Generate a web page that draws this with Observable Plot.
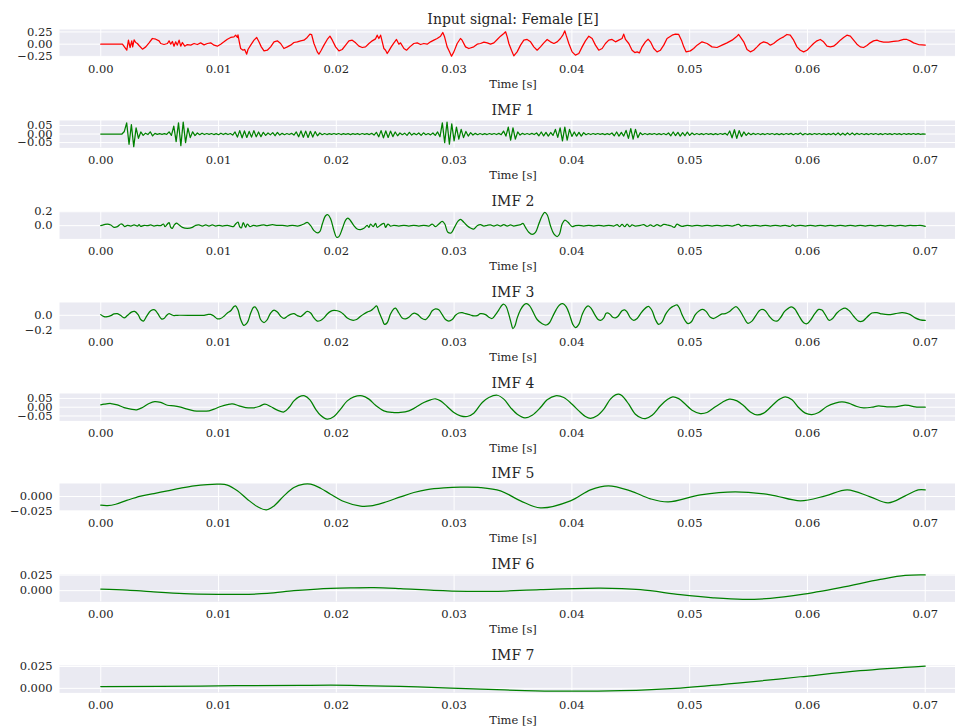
<!DOCTYPE html>
<html><head><meta charset="utf-8">
<script src="https://cdn.jsdelivr.net/npm/d3@7"></script>
<script src="https://cdn.jsdelivr.net/npm/@observablehq/plot@0.6"></script>
<style>
html,body{margin:0;padding:0;background:#fff;}
body{width:955px;height:727px;overflow:hidden;font-family:"DejaVu Serif",serif;}
#chart{position:relative;width:955px;height:727px;overflow:hidden;}
</style></head><body><div id="chart"></div><script>
// ---- data: [time in ms, value] ----
const titles = ["Input signal: Female [E]","IMF 1","IMF 2","IMF 3","IMF 4","IMF 5","IMF 6","IMF 7"];
const xTicks = [0,0.01,0.02,0.03,0.04,0.05,0.06,0.07];
const xLabel = "Time [s]";

const inputSignal = [[0,0],[1.84,0],[2.21,-.123],[2.35,.082],[2.49,-.068],[2.63,.068],[2.71,-.055],[2.83,.089],[2.97,.034],[3.11,.014],[3.25,-.027],[3.54,-.102],[3.82,-.055],[4.10,.027],[4.38,.116],[4.67,.102],[4.95,.068],[5.09,.014],[5.37,-.007],[5.66,.014],[5.80,.068],[5.94,0],[6.08,.055],[6.22,-.041],[6.36,.048],[6.50,-.020],[6.65,.082],[6.79,-.041],[6.93,.034],[7.13,-.041],[7.35,-.007],[7.64,-.020],[7.92,.014],[8.20,-.007],[8.48,.027],[8.77,-.014],[9.05,.014],[9.33,.027],[9.62,-.020],[9.90,-.041],[10.18,0],[10.46,.048],[10.75,.102],[11.03,.137],[11.31,.150],[11.45,.184],[11.60,.137],[11.65,.191],[11.76,.048],[11.88,-.089],[12.08,-.123],[12.22,-.109],[12.39,-.205],[12.50,-.109],[12.73,-.020],[13.01,.082],[13.24,.137],[13.43,.048],[13.63,-.055],[13.86,-.137],[14.14,-.123],[14.42,-.055],[14.71,.048],[14.99,.068],[15.27,.014],[15.55,-.089],[15.84,-.055],[16.12,-.020],[16.40,.034],[16.69,.048],[16.97,.068],[17.25,.082],[17.53,.137],[17.76,.205],[17.90,.198],[18.10,.014],[18.38,-.157],[18.52,-.205],[18.72,-.123],[18.95,-.020],[19.23,.096],[19.46,.164],[19.66,.082],[19.94,-.055],[20.22,-.137],[20.50,-.109],[20.79,-.020],[21.07,.068],[21.35,.082],[21.64,.027],[21.92,-.041],[22.20,-.068],[22.48,-.055],[22.77,.014],[23.05,.068],[23.33,.109],[23.47,.184],[23.61,.116],[23.76,.184],[23.90,.048],[24.04,-.089],[24.18,-.123],[24.32,-.191],[24.46,-.137],[24.66,-.055],[24.89,.027],[25.11,.096],[25.31,0],[25.45,.027],[25.74,-.089],[25.96,-.123],[26.24,-.055],[26.58,.014],[26.87,.027],[27.15,-.007],[27.43,.014],[27.71,0],[28.00,.048],[28.28,.082],[28.56,.116],[28.85,.164],[29.04,.239],[29.19,.150],[29.41,-.055],[29.55,-.123],[29.78,-.246],[29.98,-.157],[30.26,.014],[30.54,.116],[30.68,.082],[30.97,-.055],[31.25,-.089],[31.67,-.055],[31.96,0],
[32.24,.014],[32.53,.041],[32.81,.027],[33.09,0],[33.38,.027],[33.66,.096],[33.94,.164],[34.22,.219],[34.37,.253],[34.51,.150],[34.65,.014],[34.87,-.123],[35.07,-.239],[35.35,-.157],[35.64,-.020],[35.92,.082],[36.20,.096],[36.49,.048],[36.77,-.055],[37.05,-.123],[37.33,-.055],[37.62,.027],[37.90,.096],[38.18,.048],[38.47,.014],[38.75,.048],[39.03,.116],[39.23,.184],[39.40,.273],[39.51,.184],[39.74,.014],[40.02,-.157],[40.30,-.225],[40.59,-.191],[40.87,-.055],[41.15,.068],[41.44,.164],[41.72,.116],[42.00,-.020],[42.28,-.123],[42.57,-.089],[42.85,.014],[43.13,.082],[43.41,.096],[43.70,.048],[43.98,.082],[44.26,.116],[44.40,.205],[44.55,.096],[44.83,.014],[45.11,-.123],[45.34,-.171],[45.54,-.157],[45.73,-.178],[45.96,-.055],[46.24,.048],[46.47,.102],[46.67,.048],[46.95,-.089],[47.23,-.157],[47.52,-.123],[47.80,-.020],[48.08,.116],[48.51,.184],[48.79,.205],[49.07,.198],[49.30,.082],[49.50,-.055],[49.69,-.157],[50.06,-.137],[50.34,-.089],[50.63,-.020],[51.05,.048],[51.48,.014],[51.90,-.055],[52.32,-.068],[52.75,-.020],[53.17,.027],[53.60,.082],[54.02,.164],[54.16,.198],[54.30,.150],[54.59,.048],[54.87,-.109],[55.15,-.157],[55.43,-.123],[55.72,-.055],[56.00,.014],[56.28,.048],[56.57,.027],[56.85,-.020],[57.13,.014],[57.41,.068],[57.70,.116],[57.98,.150],[58.26,.198],[58.54,.184],[58.83,.082],[59.11,-.055],[59.39,-.123],[59.68,-.157],[59.96,-.123],[60.24,-.055],[60.52,.014],[60.81,.068],[61.09,.096],[61.37,.048],[61.66,-.041],[61.94,-.055],[62.22,-.041],[62.50,.014],[62.79,.082],[63.07,.137],[63.35,.184],[63.64,.164],[63.92,.082],[64.20,0],[64.48,-.055],[64.77,-.068],[65.05,-.027],[65.33,.027],[65.61,.068],[65.90,.082],[66.18,.055],[66.46,.041],[66.89,.041],[67.31,.055],[67.74,.068],[68.16,.096],[68.44,.096],[68.73,.068],[69.01,.027],[69.43,-.007],[70,-.020]];

// IMF 1: samples every 0.2 ms from 0 to 70 ms
const imf1Step = 0.2;
const imf1Values = [
0,0,0,0,0,0,0,0,0,0,
.015,.065,-.06,.055,-.074,.036,-.025,.012,-.008,.005,
-.003,.013,-.011,.004,-.002,.002,-.002,.002,-.002,.013,
-.008,.046,-.044,.065,-.068,.07,-.05,.035,-.021,.013,
-.009,.006,-.004,.005,-.003,.003,-.002,.003,-.003,.002,
-.004,.005,-.003,.004,-.003,.003,-.006,.012,-.018,.02,
-.022,.018,-.02,.015,-.018,.02,-.016,.012,-.015,.01,
-.008,.006,-.005,.008,-.01,.009,-.006,.004,-.004,.003,
-.003,.004,-.006,.012,-.016,.018,-.019,.017,-.02,.016,
-.018,.014,-.01,.006,-.004,.003,-.003,.002,-.002,.003,
-.002,.003,-.003,.002,-.002,.002,-.003,.002,-.002,.002,
-.003,.003,-.002,.002,-.003,.004,-.006,.01,-.016,.02,
-.022,.018,-.02,.017,-.015,.012,-.01,.006,-.004,.005,
-.008,.01,-.006,.004,-.004,.006,-.008,.007,-.004,.003,
-.005,.006,-.008,.012,-.016,.065,-.05,.07,-.059,.059,
-.04,.04,-.03,.027,-.021,.015,-.012,.008,-.006,.004,
-.004,.003,-.003,.002,-.003,.003,-.002,.003,-.003,.004,
-.004,.017,-.012,.04,-.036,.036,-.03,.012,-.006,.004,
-.003,.003,-.003,.004,-.003,.006,-.01,.012,-.011,.01,
-.012,.009,-.008,.027,-.02,.036,-.04,.04,-.036,.027,
-.014,.012,-.012,.01,-.012,.008,-.004,.003,-.003,.003,
-.002,.003,-.002,.002,-.003,.002,-.003,.006,-.01,.012,
-.012,.01,-.012,.021,-.025,.032,-.03,.027,-.021,.008,
-.004,.003,-.003,.002,-.002,.003,-.003,.002,-.003,.003,
-.004,.006,-.01,.012,-.009,.01,-.012,.008,-.01,.011,
-.008,.006,-.004,.003,-.003,.002,-.003,.003,-.002,.002,
-.003,.002,-.003,.003,-.002,.004,-.006,.018,-.022,.025,
-.025,.02,-.015,.012,-.008,.006,-.004,.004,-.003,.003,
-.003,.002,-.003,.003,-.002,.003,-.003,.002,-.003,.002,
-.003,.003,-.002,.004,-.004,.003,-.002,.006,-.005,.003,
-.003,.002,-.003,.003,-.002,.003,-.003,.002,-.003,.002,
-.003,.004,-.005,.006,-.006,.005,-.006,.006,-.005,.006,
-.005,.004,-.003,.003,-.003,.002,-.003,.003,-.002,.003,
-.003,.002,-.003,.003,-.002,.002,-.003,.003,-.002,.002,
-.003,.003,-.002,.002,-.002,.003,-.002,.002,-.002,.001,0];

const imf2 = [[0,0],[0.28,.014],[0.57,.024],[0.85,.010],[1.13,-.024],[1.41,-.014],[1.70,.024],[1.84,.019],[2.04,-.014],[2.26,.005],[2.55,-.005],[2.83,.010],[3.11,-.005],[3.25,.014],[3.39,-.010],[3.68,.005],[3.96,0],[4.24,.010],[4.52,-.005],[4.81,.005],[5.09,0],[5.32,.024],[5.46,-.014],[5.66,.024],[5.80,.043],[5.94,-.024],[6.08,-.038],[6.22,.005],[6.42,.038],[6.65,.010],[6.93,-.024],[7.35,-.038],[7.78,-.024],[8.06,.005],[8.34,.010],[8.63,-.005],[8.91,.010],[9.19,-.005],[9.47,.010],[9.76,-.005],[10.04,.005],[10.32,-.005],[10.75,.005],[11.03,-.005],[11.26,-.014],[11.45,.024],[11.65,.052],[11.79,-.014],[11.93,-.033],[12.10,.043],[12.30,-.024],[12.44,.024],[12.67,-.014],[12.95,.005],[13.24,-.005],[13.57,.005],[13.86,.010],[14.14,0],[14.56,.014],[14.99,.005],[15.41,.005],[15.84,-.005],[16.26,.005],[16.69,-.005],[16.97,.005],[17.25,.024],[17.53,.048],[17.82,0],[18.10,-.071],[18.38,-.105],[18.61,-.081],[18.81,.024],[19.09,.143],[19.29,.157],[19.52,.095],[19.80,-.071],[20.02,-.167],[20.22,-.157],[20.50,-.048],[20.79,.081],[20.98,.109],[21.21,.071],[21.49,0],[21.77,-.048],[22.06,-.057],[22.34,-.038],[22.62,.005],[22.77,-.024],[22.91,.024],[23.13,-.014],[23.33,.033],[23.47,-.024],[23.76,.010],[24.04,.033],[24.18,-.024],[24.38,.024],[24.60,-.005],[24.89,.005],[25.31,-.005],[25.74,.005],[26.16,-.005],[26.58,.005],[27.01,-.005],[27.43,.005],[27.86,-.005],[28.14,.024],[28.42,-.014],[28.70,.024],[28.99,.062],[29.21,.024],[29.47,-.095],[29.75,-.105],[30.03,-.024],[30.32,.062],[30.54,.090],[30.83,.048],[31.11,0],[31.39,-.033],[31.67,-.048],[31.96,0],
[32.24,.014],[32.53,-.005],[32.81,.005],[33.09,.010],[33.38,-.005],[33.66,.010],[33.94,-.005],[34.22,.014],[34.51,-.005],[34.79,.010],[35.07,-.005],[35.35,.005],[35.64,.014],[35.84,.033],[36.06,-.024],[36.34,-.095],[36.63,-.124],[36.91,-.095],[37.19,.024],[37.48,.143],[37.70,.190],[37.90,.157],[38.18,0],[38.47,-.119],[38.75,-.157],[38.95,-.119],[39.17,.024],[39.40,.081],[39.68,.048],[40.02,-.014],[40.30,0],[40.59,.005],[41.01,-.005],[41.44,.005],[41.86,-.005],[42.28,.005],[42.71,-.005],[43.13,.005],[43.56,-.005],[43.84,.014],[44.04,-.014],[44.26,.019],[44.49,-.014],[44.69,.024],[44.91,-.014],[45.11,.010],[45.39,-.005],[45.82,.005],[46.10,.014],[46.38,-.010],[46.67,.010],[46.95,-.010],[47.23,.014],[47.52,-.005],[47.80,.019],[48.08,.010],[48.45,-.005],[48.70,-.024],[48.93,.024],[49.13,.005],[49.35,-.010],[49.78,.005],[50.20,-.005],[50.63,.005],[51.05,-.005],[51.48,.005],[51.90,-.005],[52.32,.005],[52.75,-.005],[53.17,.005],[53.60,-.005],[53.93,.010],[54.16,.019],[54.39,-.005],[54.73,.005],[55.15,-.005],[55.58,.005],[56.00,-.005],[56.42,.005],[56.85,-.005],[57.27,.005],[57.70,-.005],[58.12,.005],[58.54,-.010],[58.74,.010],[58.97,-.005],[59.39,.005],[59.82,-.005],[60.24,.005],[60.67,-.005],[61.09,.005],[61.51,-.005],[61.94,.005],[62.36,-.005],[62.79,.005],[63.21,-.005],[63.64,.005],[64.06,-.005],[64.48,.005],[64.91,-.005],[65.33,.005],[65.76,-.005],[66.18,.005],[66.60,-.005],[67.03,.005],[67.45,-.005],[67.88,.005],[68.30,-.005],[68.73,.005],[69.15,0],[69.57,.005],[70,-.010]];

const imf3 = [[0,.009],[0.28,-.018],[0.57,-.018],[0.85,-.004],[1.13,.018],[1.41,.022],[1.70,-.004],[1.98,-.036],[2.26,-.004],[2.60,.044],[2.88,.053],[3.17,.009],[3.39,-.058],[3.62,-.080],[3.90,-.013],[4.24,.062],[4.58,.075],[4.86,.018],[5.15,-.049],[5.37,-.044],[5.60,0],[5.80,.022],[6.00,.009],[6.22,-.004],[6.50,0],[8.77,0],[9.05,.009],[9.33,.013],[9.62,-.013],[9.90,-.049],[10.18,-.044],[10.46,-.013],[10.75,.031],[11.03,.062],[11.31,.120],[11.45,.129],[11.65,.075],[11.88,-.058],[12.16,-.138],[12.44,-.102],[12.73,.031],[12.95,.107],[13.09,.115],[13.35,.053],[13.57,-.058],[13.86,-.102],[14.14,-.058],[14.42,.031],[14.71,.071],[14.99,.044],[15.27,-.013],[15.55,-.044],[15.84,-.013],[16.12,.013],[16.40,.022],[16.69,-.004],[16.97,-.018],[17.25,.018],[17.53,.053],[17.82,.031],[18.10,-.036],[18.38,-.080],[18.66,-.071],[18.95,-.036],[19.23,.018],[19.51,.053],[19.80,.067],[20.08,.062],[20.36,.044],[20.64,.009],[20.93,-.036],[21.35,-.067],[21.72,-.058],[22.06,-.013],[22.34,.018],[22.62,.044],[22.91,.062],[23.19,.098],[23.42,.129],[23.61,.053],[23.90,-.058],[24.09,-.124],[24.32,-.102],[24.60,.018],[24.89,.089],[25.03,.098],[25.31,.031],[25.59,-.036],[25.88,-.049],[26.16,-.027],[26.44,.018],[26.64,.031],[26.92,.009],[27.21,-.036],[27.57,-.058],[27.86,-.013],[28.14,.062],[28.42,.089],[28.70,.075],[28.99,.009],[29.27,-.058],[29.55,-.080],[29.84,-.058],[30.12,0],[30.40,.031],[30.69,.036],[30.97,.022],[31.39,.004],[31.67,-.009],[31.96,-.004],
[32.24,.022],[32.67,.009],[32.95,-.027],[33.23,-.044],[33.52,.009],[33.80,.075],[34.08,.142],[34.22,.151],[34.42,.120],[34.65,.009],[34.87,-.124],[34.99,-.182],[35.16,-.147],[35.36,-.036],[35.64,.075],[35.92,.142],[36.15,.160],[36.40,.133],[36.68,.053],[37.05,-.058],[37.48,-.115],[37.82,-.133],[38.10,-.102],[38.38,-.013],[38.66,.075],[38.95,.142],[39.23,.160],[39.51,.120],[39.80,.009],[40.08,-.124],[40.30,-.169],[40.59,-.124],[40.87,.009],[41.15,.098],[41.38,.129],[41.66,.089],[41.94,.009],[42.23,-.058],[42.43,-.071],[42.71,-.036],[42.91,.027],[43.08,.031],[43.27,.009],[43.47,-.027],[43.70,-.036],[43.92,-.013],[44.26,.062],[44.49,.075],[44.69,.044],[44.97,-.036],[45.25,-.071],[45.54,-.044],[45.82,.018],[46.10,.075],[46.38,.115],[46.53,.120],[46.81,.062],[47.09,-.058],[47.37,-.124],[47.66,-.089],[47.94,.009],[48.22,.075],[48.51,.115],[48.73,.133],[48.93,.142],[49.13,.098],[49.35,.009],[49.64,-.080],[49.86,-.115],[50.15,-.089],[50.48,.009],[50.82,.062],[51.11,.080],[51.39,.053],[51.76,-.027],[52.04,-.044],[52.41,-.013],[52.75,.018],[53.03,.022],[53.31,.044],[53.65,.089],[53.93,.120],[54.22,.075],[54.59,-.027],[54.95,-.111],[55.29,-.080],[55.63,0],[55.91,.062],[56.14,.080],[56.42,.062],[56.76,-.013],[57.13,-.071],[57.41,-.080],[57.70,-.036],[58.06,.053],[58.40,.098],[58.63,.115],[58.91,.089],[59.25,0],[59.68,-.102],[59.96,-.115],[60.24,-.071],[60.61,.018],[60.95,.080],[61.23,.071],[61.51,.009],[61.85,-.071],[62.14,-.044],[62.50,.031],[62.87,.080],[63.21,.098],[63.55,.062],[63.92,-.013],[64.34,-.080],[64.68,-.080],[65.05,-.027],[65.47,.031],[65.90,.036],[66.32,.018],[66.89,.009],[67.45,.022],[68.02,.036],[68.36,.031],[68.73,.009],[69.15,-.036],[69.57,-.062],[70,-.071]];

const imf4 = [[0,.013],[0.28,.017],[0.85,.021],[1.41,.013],[1.98,-.002],[2.55,-.011],[3.05,-.015],[3.54,-.002],[4.10,.021],[4.58,.032],[5.09,.027],[5.66,.011],[6.22,.008],[6.79,0],[7.35,-.011],[7.92,-.021],[8.48,-.023],[9.19,-.021],[9.62,-.011],[10.18,.004],[10.75,.015],[11.17,.019],[11.74,.008],[12.30,-.002],[12.87,-.004],[13.43,.004],[13.94,.017],[14.42,.004],[14.99,-.017],[15.55,-.027],[15.98,-.002],[16.40,.036],[16.83,.059],[17.31,.065],[17.76,.042],[18.24,-.011],[18.66,-.046],[19.23,-.068],[19.80,-.053],[20.36,-.011],[20.93,.036],[21.49,.059],[22.20,.065],[22.77,.046],[23.33,.011],[24.04,-.021],[24.75,-.030],[25.45,-.030],[26.16,-.021],[26.72,-.002],[27.43,.027],[28.00,.042],[28.42,.048],[28.85,.036],[29.41,.004],[29.98,-.030],[30.54,-.049],[31.11,-.053],[31.67,-.034],
[32.39,.027],[32.95,.055],[33.66,.068],[34.22,.046],[34.79,-.002],[35.36,-.040],[36.01,-.061],[36.63,-.046],[37.33,-.002],[37.90,.042],[38.61,.065],[39.31,.055],[40.02,.017],[40.59,-.021],[41.15,-.053],[41.58,-.063],[42.14,-.049],[42.71,-.011],[43.27,.046],[43.70,.070],[43.98,.074],[44.26,.065],[44.83,.017],[45.39,-.040],[45.96,-.063],[46.24,-.065],[46.81,-.046],[47.52,.008],[48.08,.042],[48.56,.059],[49.07,.049],[49.64,.017],[50.20,-.017],[50.91,-.036],[51.47,-.030],[52.18,.002],[52.75,.027],[53.37,.046],[54.02,.036],[54.59,.008],[55.15,-.027],[55.72,-.044],[56.28,-.034],[56.99,.008],[57.55,.042],[58.12,.059],[58.69,.042],[59.25,-.002],[59.82,-.034],[60.38,-.042],[60.95,-.030],[61.65,.004],[62.36,.023],[62.93,.030],[63.49,.023],[64.20,.004],[64.77,-.004],[65.47,0],[66.04,.008],[66.75,.002],[67.45,.002],[68.16,.011],[68.58,.010],[69.15,.002],[70,0]];

const imf5 = [[0,-.0151],[0.57,-.0157],[1.27,-.0134],[2.26,-.0064],[3.39,.0006],[4.52,.0052],[5.66,.0099],[6.79,.0145],[7.92,.0186],[9.05,.0209],[10.04,.0215],[10.75,.0198],[11.60,.0099],[12.44,-.0046],[13.29,-.0174],[14.06,-.0232],[14.71,-.0163],[15.55,.0012],[16.40,.0157],[17.25,.0215],[17.82,.0215],[18.66,.0145],[19.51,.0041],[20.64,-.0087],[22.06,-.0168],[22.91,-.0163],[24.04,-.0105],[25.45,-.0006],[26.58,.0070],[27.71,.0122],[29.13,.0151],[30.54,.0163],[32.24,.0157],[33.94,.0100],[35.64,-.0075],[37.33,-.0198],[39.88,-.0075],[41.58,.0117],[43.10,.0187],[44.97,.0100],[46.67,-.0040],[48.19,-.0093],[50.91,.0030],[53.88,.0082],[56.85,.0030],[59.40,-.0075],[61.52,.0012],[63.38,.0117],[65.33,-.0005],[66.86,-.0110],[68.30,.0012],[69.40,.0117],[70,.0117]];

const imf6 = [[0,.0027],[2.26,.0011],[4.24,-.0016],[7.07,-.0049],[9.90,-.0060],[11.88,-.0060],[14.14,-.0044],[16.40,0],[18.38,.0027],[21.21,.0044],[23.19,.0049],[25.45,.0033],[28.28,.0005],[31.11,-.0011],[33.5,-.0010],[37.33,.0016],[42.42,.0041],[45.82,.0016],[49.21,-.0065],[52.0,-.0115],[54.5,-.0140],[56.85,-.0123],[59.39,-.0065],[62.79,.0049],[66.18,.0180],[68.30,.0245],[70,.0253]];

const imf7 = [[0,.0020],[8.48,.0027],[16.97,.0035],[21.21,.0035],[25.45,.0023],[29.70,.0004],[32.24,-.0008],[36.0,-.0025],[39.03,-.0032],[44.12,-.0026],[49.21,.0004],[54.30,.0062],[59.39,.0133],[64.48,.0203],[70,.0256]];

// ---- panels ----
const imf1 = imf1Values.map((v, i) => [i * imf1Step, v]);
const panels = [
  {data: inputSignal, color: "#ff0000", domain: [-0.26, 0.30], ticks: [-0.25, 0, 0.25], fmt: ".2f", curve: "linear"},
  {data: imf1, color: "#008000", domain: [-0.081, 0.079], ticks: [-0.05, 0, 0.05], fmt: ".2f", curve: "linear"},
  {data: imf2, color: "#008000", domain: [-0.19, 0.204], ticks: [0, 0.2], fmt: ".1f", curve: "catmull-rom"},
  {data: imf3, color: "#008000", domain: [-0.2, 0.175], ticks: [-0.2, 0], fmt: ".1f", curve: "catmull-rom"},
  {data: imf4, color: "#008000", domain: [-0.078, 0.078], ticks: [-0.05, 0, 0.05], fmt: ".2f", curve: "catmull-rom"},
  {data: imf5, color: "#008000", domain: [-0.025, 0.0227], ticks: [-0.025, 0], fmt: ".3f", curve: "catmull-rom"},
  {data: imf6, color: "#008000", domain: [-0.018, 0.026], ticks: [0, 0.025], fmt: ".3f", curve: "catmull-rom"},
  {data: imf7, color: "#008000", domain: [-0.0052, 0.0262], ticks: [0, 0.025], fmt: ".3f", curve: "catmull-rom"}
];

const chart = document.getElementById("chart");
const PH = 27.4, MT = 27, MB = 36, W = 967;
panels.forEach((p, i) => {
  const rows = p.data.map(([t, v]) => ({t: t / 1000, v}));
  const svg = Plot.plot({
    width: W, height: MT + PH + MB,
    marginTop: MT, marginBottom: MB, marginLeft: 59, marginRight: 1,
    style: {fontFamily: "'DejaVu Serif', serif", fontSize: "11.5px", color: "#262626", background: "transparent", maxWidth: "none", overflow: "visible"},
    x: {domain: [-0.0035, 0.0735]},
    y: {domain: p.domain},
    marks: [
      Plot.frame({fill: "#eaeaf2", stroke: "none"}),
      Plot.gridX(xTicks, {stroke: "#ffffff", strokeOpacity: 1, strokeWidth: 1}),
      Plot.gridY(p.ticks, {stroke: "#ffffff", strokeOpacity: 1, strokeWidth: 1}),
      Plot.axisX(xTicks, {tickSize: 0, tickPadding: 8, tickFormat: d3.format(".2f"), label: null}),
      Plot.axisY(p.ticks, {tickSize: 0, tickPadding: 7, tickFormat: d3.format(p.fmt), label: null}),
      Plot.line(rows, {x: "t", y: "v", stroke: p.color, strokeWidth: 1.25, curve: p.curve}),
      Plot.text([titles[i]], {frameAnchor: "top", lineAnchor: "middle", dy: -10.3, fontSize: 14, fill: "#262626"}),
      Plot.text([xLabel], {frameAnchor: "bottom", lineAnchor: "middle", dy: 27.3, fontSize: 11.5, fill: "#262626"})
    ]
  });
  svg.style.position = "absolute";
  svg.style.left = "0px";
  svg.style.top = (29.3 + 90.8 * i - MT) + "px";
  chart.appendChild(svg);
});
</script></body></html>
